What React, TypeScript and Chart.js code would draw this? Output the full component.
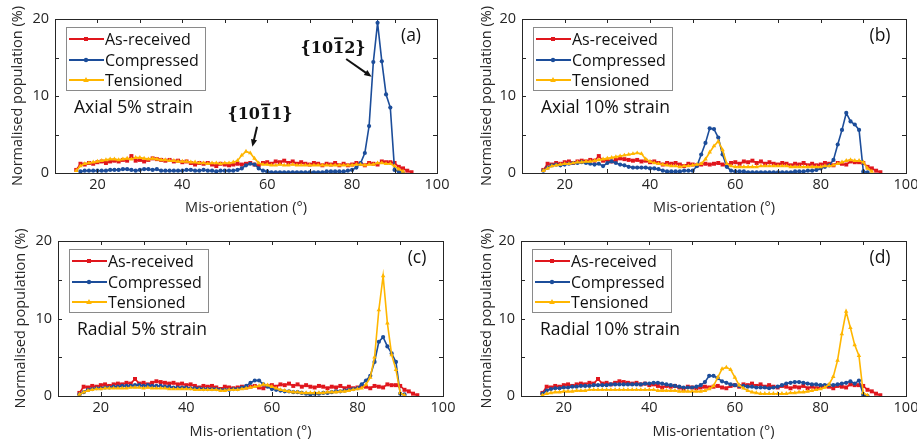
import React, { useEffect, useRef } from 'react';
import { Chart, registerables } from 'chart.js';
Chart.register(...registerables);

// ---------------- data ----------------
const ANGLES = [
  15, 16, 17, 18, 19, 20, 21, 22, 23, 24,
  25, 26, 27, 28, 29, 30, 31, 32, 33, 34,
  35, 36, 37, 38, 39, 40, 41, 42, 43, 44,
  45, 46, 47, 48, 49, 50, 51, 52, 53, 54,
  55, 56, 57, 58, 59, 60, 61, 62, 63, 64,
  65, 66, 67, 68, 69, 70, 71, 72, 73, 74,
  75, 76, 77, 78, 79, 80, 81, 82, 83, 84,
  85, 86, 87, 88, 89, 90, 91, 92, 93, 94,
];

const SERIES_NAMES = ['As-received', 'Compressed', 'Tensioned'];
const X_TICK_LABELS = ['20', '40', '60', '80', '100'];
const Y_TICK_LABELS = ['0', '10', '20'];

const AS_RECEIVED = [
  0.4, 1.2, 1.1, 1.3, 1.2, 1.4, 1.5, 1.3, 1.5, 1.6,
  1.5, 1.7, 1.6, 2.2, 1.6, 1.7, 1.5, 1.7, 1.9, 1.8,
  1.7, 1.6, 1.7, 1.5, 1.6, 1.4, 1.5, 1.3, 1.1, 1.3,
  1.2, 1.3, 1.1, 0.9, 1.2, 1.1, 1.0, 1.1, 1.2, 1.1,
  1.2, 1.3, 1.1, 1.0, 1.3, 1.4, 1.2, 1.5, 1.4, 1.6,
  1.3, 1.5, 1.2, 1.4, 1.2, 1.1, 1.3, 1.2, 1.0, 1.2,
  1.1, 1.3, 1.0, 1.2, 1.0, 1.1, 1.3, 1.2, 1.0, 1.3,
  1.2, 1.1, 1.5, 1.4, 1.4, 1.3, 0.8, 0.6, 0.3, 0.1,
];

// (a) Axial 5% strain
const AXIAL5_COMPRESSED = [
  null, 0.2, 0.3, 0.3, 0.3, 0.3, 0.3, 0.3, 0.4, 0.4,
  0.4, 0.5, 0.5, 0.4, 0.3, 0.4, 0.5, 0.5, 0.4, 0.5,
  0.3, 0.3, 0.3, 0.3, 0.3, 0.3, 0.4, 0.4, 0.3, 0.3,
  0.4, 0.3, 0.3, 0.2, 0.3, 0.3, 0.3, 0.3, 0.4, 0.6,
  1.0, 1.2, 1.1, 0.6, 0.3, 0.2, 0.1, 0.1, 0.1, 0.1,
  0.1, 0.1, 0.1, 0.1, 0.1, 0.1, 0.1, 0.1, 0.1, 0.2,
  0.2, 0.2, 0.2, 0.2, 0.3, 0.4, 0.7, 1.3, 2.6, 6.1,
  14.4, 19.5, 14.5, 10.2, 8.5, 0.4, 0.2, 0.0, null, null,
];
const AXIAL5_TENSIONED = [
  0.3, 0.9, 1.2, 1.3, 1.4, 1.5, 1.6, 1.7, 1.8, 1.8,
  1.7, 1.8, 1.9, 1.8, 2.0, 2.0, 1.9, 1.8, 1.9, 1.8,
  1.7, 1.7, 1.6, 1.6, 1.5, 1.5, 1.5, 1.4, 1.4, 1.3,
  1.3, 1.2, 1.3, 1.3, 1.2, 1.3, 1.3, 1.4, 1.6, 2.3,
  2.8, 2.6, 1.9, 1.3, 1.1, 1.1, 1.0, 1.0, 1.1, 1.0,
  1.0, 1.1, 1.0, 1.0, 1.0, 1.0, 1.0, 1.0, 1.0, 1.0,
  1.0, 1.0, 1.0, 1.0, 1.0, 1.0, 1.1, 1.1, 1.0, 1.1,
  1.1, 1.3, 1.3, 1.2, 1.2, 0.9, 0.5, 0.2, null, null,
];

// (b) Axial 10% strain
const AXIAL10_COMPRESSED = [
  0.3, 0.7, 1.0, 1.1, 1.0, 1.1, 1.2, 1.3, 1.3, 1.4,
  1.3, 1.2, 1.1, 1.2, 0.9, 1.3, 1.5, 1.3, 1.1, 1.0,
  0.8, 0.7, 0.7, 0.7, 0.7, 0.6, 0.6, 0.5, 0.3, 0.2,
  0.2, 0.2, 0.2, 0.3, 0.3, 0.3, 0.9, 2.4, 3.9, 5.8,
  5.7, 4.6, 2.4, 0.8, 0.3, 0.2, 0.2, 0.2, 0.1, 0.1,
  0.1, 0.1, 0.1, 0.1, 0.1, 0.1, 0.1, 0.1, 0.1, 0.2,
  0.2, 0.2, 0.3, 0.3, 0.4, 0.6, 0.8, 1.0, 1.7, 3.7,
  5.6, 7.8, 6.7, 6.3, 5.6, 0.2, 0.1, null, null, null,
];
const AXIAL10_TENSIONED = [
  0.3, 0.6, 0.9, 1.0, 1.1, 1.2, 1.2, 1.3, 1.4, 1.4,
  1.5, 1.5, 1.6, 1.7, 1.8, 1.9, 2.0, 2.1, 2.2, 2.3,
  2.4, 2.5, 2.6, 2.5, 1.8, 1.5, 1.3, 1.2, 1.1, 1.0,
  0.9, 0.9, 0.8, 0.9, 0.9, 1.0, 1.1, 1.2, 1.8, 2.7,
  3.5, 4.1, 3.0, 1.2, 0.9, 0.8, 0.8, 0.8, 0.8, 0.8,
  0.8, 0.9, 0.9, 0.9, 0.9, 0.9, 0.9, 0.9, 0.8, 0.8,
  0.8, 0.8, 0.8, 0.8, 0.8, 0.8, 0.9, 0.9, 1.0, 1.2,
  1.4, 1.6, 1.7, 1.6, 1.6, 1.4, 0.6, 0.2, null, null,
];

// (c) Radial 5% strain
const RADIAL5_COMPRESSED = [
  0.2, 0.5, 0.8, 0.9, 1.0, 1.0, 1.1, 1.1, 1.2, 1.2,
  1.3, 1.3, 1.3, 1.4, 1.4, 1.3, 1.4, 1.3, 1.3, 1.3,
  1.2, 1.2, 1.1, 1.1, 1.1, 1.1, 1.0, 1.0, 1.0, 0.9,
  0.9, 0.9, 0.9, 0.8, 0.8, 0.8, 0.9, 0.9, 1.1, 1.3,
  1.7, 2.0, 2.0, 1.5, 1.2, 0.9, 0.8, 0.7, 0.6, 0.6,
  0.5, 0.5, 0.4, 0.3, 0.2, 0.3, 0.3, 0.4, 0.4, 0.5,
  0.6, 0.6, 0.7, 0.8, 0.9, 1.0, 1.5, 2.0, 2.6, 4.4,
  7.0, 7.6, 6.4, 5.5, 4.4, 0.3, 0.2, null, null, null,
];
const RADIAL5_TENSIONED = [
  0.2, 0.5, 0.7, 0.8, 0.9, 0.9, 1.0, 1.0, 1.0, 1.0,
  1.0, 1.0, 1.1, 1.1, 1.1, 1.0, 1.1, 1.0, 1.0, 1.0,
  1.0, 0.9, 0.9, 0.9, 0.9, 0.9, 0.9, 0.8, 0.8, 0.8,
  0.8, 0.8, 0.8, 0.7, 0.7, 0.8, 0.8, 0.8, 0.9, 1.0,
  1.1, 1.2, 1.3, 1.5, 1.4, 1.2, 1.0, 0.8, 0.7, 0.6,
  0.5, 0.5, 0.4, 0.4, 0.4, 0.4, 0.4, 0.4, 0.5, 0.5,
  0.5, 0.6, 0.6, 0.7, 0.8, 0.9, 1.0, 1.5, 2.4, 5.0,
  11.1, 15.5, 9.4, 5.3, 3.4, 0.4, 0.1, null, null, null,
];

// (d) Radial 10% strain
const RADIAL10_COMPRESSED = [
  0.3, 0.7, 0.9, 1.0, 1.0, 1.1, 1.1, 1.2, 1.2, 1.3,
  1.3, 1.3, 1.4, 1.4, 1.4, 1.4, 1.5, 1.5, 1.5, 1.5,
  1.5, 1.5, 1.5, 1.5, 1.6, 1.6, 1.7, 1.7, 1.6, 1.5,
  1.4, 1.3, 1.2, 1.1, 1.1, 1.1, 1.2, 1.4, 1.8, 2.6,
  2.6, 2.3, 1.9, 1.7, 1.5, 1.4, 1.3, 1.3, 1.2, 1.2,
  1.1, 1.1, 1.1, 1.0, 1.1, 1.2, 1.4, 1.6, 1.7, 1.8,
  1.8, 1.7, 1.6, 1.5, 1.5, 1.4, 1.4, 1.4, 1.4, 1.5,
  1.6, 1.7, 1.9, 1.6, 2.0, 0.2, 0.0, null, null, null,
];
const RADIAL10_TENSIONED = [
  0.1, 0.3, 0.4, 0.5, 0.5, 0.6, 0.6, 0.6, 0.7, 0.7,
  0.7, 0.8, 0.8, 0.8, 0.8, 0.8, 0.8, 0.8, 0.8, 0.8,
  0.8, 0.8, 0.8, 0.8, 0.8, 0.8, 0.8, 0.7, 0.7, 0.7,
  0.7, 0.7, 0.6, 0.6, 0.6, 0.6, 0.6, 0.6, 0.7, 0.9,
  1.3, 2.4, 3.5, 3.7, 3.4, 2.4, 1.4, 1.0, 0.7, 0.5,
  0.4, 0.3, 0.3, 0.3, 0.3, 0.3, 0.3, 0.3, 0.4, 0.4,
  0.5, 0.5, 0.6, 0.7, 0.8, 0.9, 1.1, 1.5, 2.5, 4.6,
  8.0, 10.9, 8.8, 6.6, 5.2, 0.4, 0.1, null, null, null,
];

// ---------------- style & layout ----------------
const RED = '#e0161d';
const BLUE = '#1c4d9a';
const ORANGE = '#ffb600';
const INK = '#262626';
const FONT = "'Open Sans', 'DejaVu Sans', sans-serif";
const AXIS_FONT_SIZE = 14.5;

type Panel = {
  letter: string;
  note: string;
  compressed: (number | null)[];
  tensioned: (number | null)[];
  pos: { x: number; y: number; w: number; h: number };
  area: { l: number; t: number; r: number; b: number };
  yTitleCenter: number;
  xTitleCenterFromBottom: number;
  labels?: boolean;
};

const PANELS: Panel[] = [
  {
    letter: '(a)', note: 'Axial 5% strain',
    compressed: AXIAL5_COMPRESSED, tensioned: AXIAL5_TENSIONED,
    pos: { x: 0, y: 0, w: 458, h: 220 }, area: { l: 55, t: 19, r: 437, b: 173 },
    yTitleCenter: 18, xTitleCenterFromBottom: 12, labels: true,
  },
  {
    letter: '(b)', note: 'Axial 10% strain',
    compressed: AXIAL10_COMPRESSED, tensioned: AXIAL10_TENSIONED,
    pos: { x: 458, y: 0, w: 459, h: 220 }, area: { l: 64, t: 19, r: 448, b: 173 },
    yTitleCenter: 29, xTitleCenterFromBottom: 12,
  },
  {
    letter: '(c)', note: 'Radial 5% strain',
    compressed: RADIAL5_COMPRESSED, tensioned: RADIAL5_TENSIONED,
    pos: { x: 0, y: 220, w: 458, h: 221 }, area: { l: 58, t: 21, r: 443, b: 176 },
    yTitleCenter: 21, xTitleCenterFromBottom: 9,
  },
  {
    letter: '(d)', note: 'Radial 10% strain',
    compressed: RADIAL10_COMPRESSED, tensioned: RADIAL10_TENSIONED,
    pos: { x: 458, y: 220, w: 459, h: 221 }, area: { l: 63, t: 21, r: 448, b: 176 },
    yTitleCenter: 29, xTitleCenterFromBottom: 9,
  },
];

const toPoints = (vals: (number | null)[]) =>
  ANGLES.map((a, i) => ({ x: a, y: vals[i] }));

function drawMarker(ctx: CanvasRenderingContext2D, style: string, x: number, y: number, color: string) {
  ctx.fillStyle = color;
  ctx.beginPath();
  if (style === 'rect') {
    ctx.rect(x - 2, y - 2, 4, 4);
  } else if (style === 'circle') {
    ctx.arc(x, y, 2.2, 0, Math.PI * 2);
  } else {
    ctx.moveTo(x, y - 3);
    ctx.lineTo(x + 2.8, y + 2);
    ctx.lineTo(x - 2.8, y + 2);
    ctx.closePath();
  }
  ctx.fill();
}

function drawArrow(ctx: CanvasRenderingContext2D, x1: number, y1: number, x2: number, y2: number) {
  const ang = Math.atan2(y2 - y1, x2 - x1);
  const head = 8;
  ctx.strokeStyle = '#111';
  ctx.fillStyle = '#111';
  ctx.lineWidth = 2;
  ctx.beginPath();
  ctx.moveTo(x1, y1);
  ctx.lineTo(x2 - Math.cos(ang) * head * 0.8, y2 - Math.sin(ang) * head * 0.8);
  ctx.stroke();
  ctx.beginPath();
  ctx.moveTo(x2, y2);
  ctx.lineTo(x2 - head * Math.cos(ang - 0.4), y2 - head * Math.sin(ang - 0.4));
  ctx.lineTo(x2 - head * Math.cos(ang + 0.4), y2 - head * Math.sin(ang + 0.4));
  ctx.closePath();
  ctx.fill();
}

function drawPlane(ctx: CanvasRenderingContext2D, cx: number, cy: number, digits: string) {
  // digits like "1012" with the third digit overlined
  const txt = '{' + digits + '}';
  ctx.font = "bold 16px 'DejaVu Serif', serif";
  ctx.textAlign = 'left';
  ctx.textBaseline = 'alphabetic';
  const w = ctx.measureText(txt).width;
  const x0 = cx - w / 2;
  const base = cy + 6;
  ctx.fillStyle = '#111';
  ctx.fillText(txt, x0, base);
  const w1 = ctx.measureText('{' + digits.slice(0, 2)).width;
  const w2 = ctx.measureText('{' + digits.slice(0, 3)).width;
  ctx.strokeStyle = '#111';
  ctx.lineWidth = 1.7;
  ctx.beginPath();
  ctx.moveTo(x0 + w1 + 1, base - 14.5);
  ctx.lineTo(x0 + w2 - 1, base - 14.5);
  ctx.stroke();
}

function makeDecor(p: Panel) {
  return {
    id: 'decor' + p.letter,
    afterDraw(chart: any) {
      const { ctx, chartArea: a, scales } = chart;
      const xs = scales.x;
      const ys = scales.y;
      ctx.save();
      // axes box and inward ticks
      ctx.strokeStyle = INK;
      ctx.lineWidth = 1;
      ctx.beginPath();
      xs.ticks.forEach((t: any) => {
        const px = Math.round(xs.getPixelForValue(t.value)) + 0.5;
        ctx.moveTo(px, a.bottom);
        ctx.lineTo(px, a.bottom - 4);
        ctx.moveTo(px, a.top);
        ctx.lineTo(px, a.top + 4);
      });
      ys.ticks.forEach((t: any) => {
        const py = Math.round(ys.getPixelForValue(t.value)) + 0.5;
        ctx.moveTo(a.left, py);
        ctx.lineTo(a.left + 4, py);
        ctx.moveTo(a.right, py);
        ctx.lineTo(a.right - 4, py);
      });
      ctx.stroke();
      ctx.strokeRect(Math.round(a.left) + 0.5, Math.round(a.top) + 0.5,
        Math.round(a.right - a.left), Math.round(a.bottom - a.top));

      // legend
      const lx = a.left + 11;
      const ly = a.top + 8;
      const lw = 139;
      const lh = 63;
      ctx.fillStyle = '#fff';
      ctx.fillRect(lx, ly, lw, lh);
      ctx.strokeStyle = '#8a8a8a';
      ctx.strokeRect(lx + 0.5, ly + 0.5, lw, lh);
      const colors = [RED, BLUE, ORANGE];
      const styles = ['rect', 'circle', 'triangle'];
      const rows = [12, 33, 53];
      ctx.font = `16px ${FONT}`;
      ctx.textBaseline = 'middle';
      ctx.textAlign = 'left';
      SERIES_NAMES.forEach((name, i) => {
        const yy = ly + rows[i];
        ctx.strokeStyle = colors[i];
        ctx.lineWidth = 1.8;
        ctx.beginPath();
        ctx.moveTo(lx + 3, yy);
        ctx.lineTo(lx + 38, yy);
        ctx.stroke();
        drawMarker(ctx, styles[i], lx + 20, yy, colors[i]);
        ctx.fillStyle = '#111';
        ctx.fillText(name, lx + 39, yy + 1);
      });

      // strain note
      ctx.font = `17.5px ${FONT}`;
      ctx.fillStyle = '#111';
      ctx.textAlign = 'left';
      ctx.textBaseline = 'middle';
      ctx.fillText(p.note, a.left + 19, a.top + 89);

      // panel letter
      ctx.font = `17.5px ${FONT}`;
      ctx.textAlign = 'center';
      ctx.fillText(p.letter, a.right - 26, a.top + 17);

      if (p.labels) {
        const X = (v: number) => xs.getPixelForValue(v);
        const Y = (v: number) => ys.getPixelForValue(v);
        drawPlane(ctx, X(75.5), Y(16.4), '1012');
        drawArrow(ctx, X(78.6), Y(14.8), X(84.6), Y(12.5));
        drawPlane(ctx, X(58.3), Y(7.8), '1011');
        drawArrow(ctx, X(57.6), Y(6.0), X(56.5), Y(3.4));
      }
      ctx.restore();
    },
  };
}

function PanelChart({ p }: { p: Panel }) {
  const ref = useRef<HTMLCanvasElement | null>(null);
  useEffect(() => {
    if (!ref.current) return;
    const lh = AXIS_FONT_SIZE * 1.2;
    const chart = new Chart(ref.current, {
      type: 'line',
      data: {
        datasets: [
          {
            label: SERIES_NAMES[0], data: toPoints(AS_RECEIVED) as any,
            borderColor: RED, backgroundColor: RED, borderWidth: 1.6,
            pointStyle: 'rect', pointRadius: 2.8, pointBorderWidth: 0, order: 2,
          },
          {
            label: SERIES_NAMES[1], data: toPoints(p.compressed) as any,
            borderColor: BLUE, backgroundColor: BLUE, borderWidth: 1.6,
            pointStyle: 'circle', pointRadius: 2.1, pointBorderWidth: 0, order: 1,
          },
          {
            label: SERIES_NAMES[2], data: toPoints(p.tensioned) as any,
            borderColor: ORANGE, backgroundColor: ORANGE, borderWidth: 1.6,
            pointStyle: 'triangle', pointRadius: 2.6, pointBorderWidth: 0, order: 0,
          },
        ],
      },
      options: {
        animation: false,
        responsive: false,
        devicePixelRatio: 1,
        events: [],
        layout: {
          padding: { left: 0, top: p.area.t, right: p.pos.w - p.area.r, bottom: 0 },
        },
        elements: { line: { tension: 0 } },
        plugins: { legend: { display: false }, tooltip: { enabled: false } },
        scales: {
          x: {
            type: 'linear', min: 10, max: 100,
            grid: { display: false, drawTicks: false, tickLength: 0 }, border: { display: false },
            ticks: {
              stepSize: 10, autoSkip: false, maxRotation: 0, padding: 3,
              color: INK, font: { family: FONT, size: AXIS_FONT_SIZE },
              callback: (v: any) => (X_TICK_LABELS.includes(String(v)) ? String(v) : ''),
            },
            title: {
              display: true, text: 'Mis-orientation (°)', color: INK,
              font: { family: FONT, size: AXIS_FONT_SIZE },
              padding: { top: 0, bottom: p.xTitleCenterFromBottom - lh / 2 },
            },
            afterFit: (s: any) => {
              s.height = p.pos.h - p.area.b;
              s.paddingLeft = 0;
              s.paddingRight = 0;
            },
          },
          y: {
            type: 'linear', min: 0, max: 20,
            grid: { display: false, drawTicks: false, tickLength: 0 }, border: { display: false },
            ticks: {
              stepSize: 5, autoSkip: false, padding: 6,
              color: INK, font: { family: FONT, size: AXIS_FONT_SIZE },
              callback: (v: any) => (Y_TICK_LABELS.includes(String(v)) ? String(v) : ''),
            },
            title: {
              display: true, text: 'Normalised population (%)', color: INK,
              font: { family: FONT, size: AXIS_FONT_SIZE },
              padding: { top: p.yTitleCenter - lh / 2, bottom: 0 },
            },
            afterFit: (s: any) => {
              s.width = p.area.l;
              s.paddingTop = 0;
              s.paddingBottom = 0;
            },
          },
        },
      },
      plugins: [makeDecor(p)],
    } as any);
    return () => chart.destroy();
  }, [p]);
  return (
    <canvas
      ref={ref}
      width={p.pos.w}
      height={p.pos.h}
      style={{ position: 'absolute', left: p.pos.x, top: p.pos.y, width: p.pos.w, height: p.pos.h }}
    />
  );
}

export default function App() {
  return (
    <div style={{ position: 'fixed', left: 0, top: 0, width: 917, height: 441, background: '#fff', overflow: 'hidden' }}>
      {PANELS.map((p) => (
        <PanelChart key={p.letter} p={p} />
      ))}
    </div>
  );
}
